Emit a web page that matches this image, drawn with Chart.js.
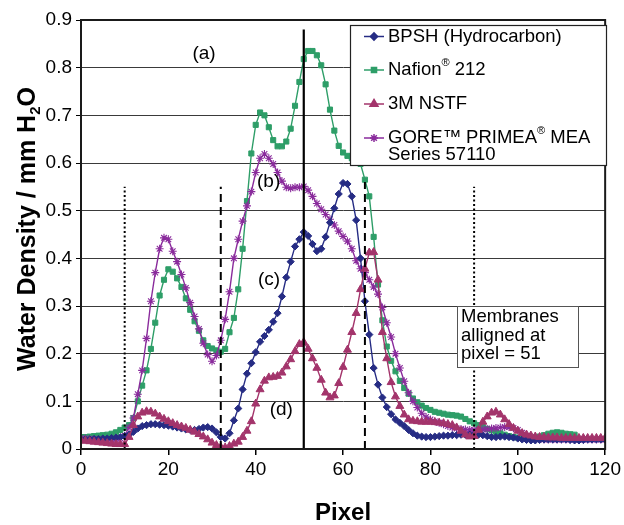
<!DOCTYPE html>
<html><head><meta charset="utf-8">
<script src="https://cdn.jsdelivr.net/npm/chart.js@4/dist/chart.umd.min.js"></script>
<style>html,body{margin:0;padding:0;background:#fff}#wrap{width:624px;height:525px}</style>
</head><body><div id="wrap"><canvas id="c" width="624" height="525"></canvas></div>
<script>
// ---------------- DATA ----------------
const pixels = [0,1,2,3,4,5,6,7,8,9,10,11,12,13,14,15,16,17,18,19,20,21,22,23,24,25,26,27,28,29,30,31,32,33,34,35,36,37,38,39,40,41,42,43,44,45,46,47,48,49,50,51,52,53,54,55,56,57,58,59,60,61,62,63,64,65,66,67,68,69,70,71,72,73,74,75,76,77,78,79,80,81,82,83,84,85,86,87,88,89,90,91,92,93,94,95,96,97,98,99,100,101,102,103,104,105,106,107,108,109,110,111,112,113,114,115,116,117,118,119,120];

const bpsh = [0.02,0.02,0.02,0.021,0.021,0.022,0.022,0.023,0.024,0.025,
0.027,0.03,0.036,0.043,0.048,0.05,0.052,0.052,0.051,0.05,
0.049,0.047,0.045,0.043,0.041,0.04,0.04,0.042,0.045,0.046,
0.043,0.035,0.025,0.022,0.033,0.06,0.085,0.125,0.158,0.18,
0.203,0.225,0.237,0.25,0.267,0.285,0.32,0.36,0.393,0.425,
0.44,0.455,0.447,0.43,0.415,0.42,0.445,0.475,0.505,0.535,
0.558,0.556,0.53,0.48,0.4,0.31,0.24,0.17,0.135,0.108,
0.088,0.073,0.062,0.055,0.048,0.04,0.033,0.028,0.026,0.025,
0.025,0.026,0.027,0.028,0.028,0.029,0.029,0.03,0.03,0.03,
0.03,0.03,0.029,0.027,0.025,0.025,0.026,0.026,0.025,0.024,
0.022,0.02,0.019,0.018,0.018,0.019,0.02,0.02,0.02,0.02,
0.02,0.02,0.019,0.018,0.018,0.019,0.02,0.02,0.02,0.02,
0.02];

const nafion = [0.025,0.025,0.026,0.027,0.028,0.029,0.03,0.032,0.035,0.04,
0.045,0.05,0.065,0.1,0.133,0.165,0.21,0.265,0.322,0.355,
0.377,0.372,0.358,0.34,0.316,0.292,0.268,0.248,0.228,0.216,
0.211,0.207,0.204,0.21,0.245,0.275,0.335,0.42,0.52,0.62,
0.68,0.706,0.7,0.675,0.648,0.635,0.635,0.645,0.672,0.72,
0.77,0.818,0.835,0.835,0.826,0.805,0.765,0.712,0.668,0.636,
0.622,0.615,0.61,0.605,0.598,0.565,0.53,0.445,0.345,0.27,
0.215,0.185,0.163,0.143,0.128,0.116,0.106,0.098,0.091,0.086,
0.082,0.078,0.076,0.074,0.072,0.071,0.07,0.068,0.063,0.058,
0.054,0.05,0.046,0.042,0.039,0.036,0.033,0.03,0.027,0.025,
0.024,0.023,0.023,0.023,0.024,0.026,0.029,0.032,0.034,0.035,
0.034,0.032,0.031,0.03,null,null,null,null,null,null,
null];

const nstf3m = [0.018,0.017,0.016,0.015,0.014,0.013,0.012,0.011,0.01,0.01,
0.01,0.025,0.05,0.068,0.076,0.079,0.078,0.074,0.068,0.063,
0.058,0.054,0.05,0.047,0.044,0.04,0.036,0.031,0.026,0.02,
0.013,0.008,0.004,0.003,0.006,0.011,0.015,0.025,0.038,0.058,
0.095,0.125,0.143,0.15,0.151,0.153,0.16,0.173,0.188,0.205,
0.22,0.224,0.21,0.19,0.17,0.145,0.118,0.108,0.112,0.138,
0.172,0.208,0.245,0.285,0.335,0.378,0.412,0.413,0.355,0.245,
0.19,0.14,0.11,0.09,0.072,0.062,0.059,0.058,0.057,0.057,
0.057,0.056,0.055,0.054,0.052,0.05,0.045,0.038,0.03,0.026,
0.027,0.04,0.057,0.068,0.076,0.078,0.072,0.062,0.052,0.044,
0.038,0.033,0.03,0.028,0.026,0.025,0.025,0.024,0.024,0.024,
0.023,0.023,0.023,0.023,0.023,0.023,0.023,0.023,0.023,0.023,
0.023];

const gore = [0.022,0.022,0.021,0.021,0.02,0.02,0.019,0.019,0.02,0.022,
0.028,0.045,0.065,0.115,0.165,0.232,0.31,0.37,0.42,0.443,
0.44,0.415,0.393,0.366,0.338,0.307,0.278,0.252,0.222,0.198,
0.184,0.196,0.228,0.272,0.33,0.4,0.44,0.478,0.51,0.54,
0.58,0.61,0.619,0.61,0.598,0.58,0.562,0.549,0.547,0.549,
0.549,0.551,0.543,0.53,0.515,0.503,0.492,0.482,0.47,0.457,
0.446,0.436,0.42,0.395,0.378,0.37,0.355,0.34,0.325,0.297,
0.265,0.235,0.2,0.17,0.142,0.118,0.1,0.087,0.075,0.067,
0.062,0.058,0.055,0.052,0.048,0.045,0.043,0.042,0.041,0.04,
0.04,0.04,0.041,0.042,0.043,0.044,0.045,0.046,0.046,0.044,
0.04,0.034,0.028,0.024,0.022,0.021,0.02,0.02,0.02,0.02,
0.02,0.02,0.02,0.02,0.02,0.02,0.02,0.02,0.02,0.02,
0.02];

const seriesNames = ["BPSH (Hydrocarbon)", "Nafion® 212", "3M NSTF", "GORE™ PRIMEA® MEA Series 57110"];
const yTicks = [0, 0.1, 0.2, 0.3, 0.4, 0.5, 0.6, 0.7, 0.8, 0.9];
const yTickLabels = ["0", "0.1", "0.2", "0.3", "0.4", "0.5", "0.6", "0.7", "0.8", "0.9"];
const xTicks = [0, 20, 40, 60, 80, 100, 120];
// reference lines (pixel position, top value)
const guideX = [10, 32, 51, 65, 90];
const guideTop = [0.55, 0.55, 0.88, 0.56, 0.55];
const annotLabels = ["(a)", "(b)", "(c)", "(d)"];
const noteLines = ["Membranes", "alligned at", "pixel = 51"];

// ---------------- STYLE ----------------
const FONT = "'Liberation Sans', Arial, sans-serif";
const colors = ["#262C84", "#2E9E68", "#A3346B", "#8A2B9C"];
const markers = [
  {pointStyle: 'rectRot', radius: 3.6},
  {pointStyle: 'rect', radius: 3.6},
  {pointStyle: 'triangle', radius: 4.6},
  {pointStyle: 'star', radius: 4.0}
];
const guideDash = [[2, 2.5], [8, 5], [], [8, 5], [2, 2.5]];

const toXY = arr => pixels.map((x, i) => ({x: x, y: arr[i]}));
const seriesData = [bpsh, nafion, nstf3m, gore];

const datasets = [];
guideX.forEach((gx, i) => {
  datasets.push({
    label: 'guide' + i,
    data: [{x: gx, y: 0}, {x: gx, y: guideTop[i]}],
    borderColor: '#000', borderWidth: i === 2 ? 2.2 : 2,
    borderDash: guideDash[i], pointRadius: 0, fill: false, tension: 0
  });
});
const seriesOrder = [2, 0, 3, 1];
seriesOrder.forEach(k => {
  datasets.push({
    label: seriesNames[k],
    data: toXY(seriesData[k]),
    borderColor: colors[k], backgroundColor: colors[k],
    pointBorderColor: colors[k], pointBackgroundColor: colors[k],
    borderWidth: 1.4, pointStyle: markers[k].pointStyle, pointRadius: markers[k].radius,
    pointBorderWidth: k === 3 ? 1.1 : 1, tension: 0, fill: false, spanGaps: false
  });
});

function drawTextSup(ctx, parts, x, y, size) {
  let cx = x;
  parts.forEach(p => {
    if (p[1]) {
      ctx.font = (size * 0.6) + "px " + FONT;
      ctx.fillText(p[0], cx, y - size * 0.38);
    } else {
      ctx.font = size + "px " + FONT;
      ctx.fillText(p[0], cx, y);
    }
    cx += ctx.measureText(p[0]).width;
  });
}

const decor = {
  id: 'decor',
  afterDatasetsDraw(chart) {
    const ctx = chart.ctx;
    const a = chart.chartArea;
    const xs = chart.scales.x, ys = chart.scales.y;
    ctx.save();
    // frame
    ctx.strokeStyle = '#1a1a1a'; ctx.lineWidth = 2;
    ctx.strokeRect(a.left, a.top, a.right - a.left, a.bottom - a.top);

    // annotations
    ctx.fillStyle = '#000';
    ctx.font = "19px " + FONT; ctx.textBaseline = 'middle'; ctx.textAlign = 'left';
    const annPos = [[25.5, 0.83], [40.3, 0.56], [40.5, 0.355], [43.2, 0.083]];
    annotLabels.forEach((t, i) => {
      ctx.fillText(t, xs.getPixelForValue(annPos[i][0]), ys.getPixelForValue(annPos[i][1]));
    });

    // note box
    const bx = 457, by = 306, bw = 121, bh = 61;
    ctx.fillStyle = '#fff'; ctx.fillRect(bx, by, bw, bh);
    ctx.strokeStyle = '#555'; ctx.lineWidth = 1; ctx.strokeRect(bx + 0.5, by + 0.5, bw, bh);
    ctx.fillStyle = '#000'; ctx.font = "18.5px " + FONT;
    noteLines.forEach((t, i) => ctx.fillText(t, bx + 4, by + 11 + i * 18.5));

    // legend
    const lx = 350, ly = 25, lw = 256, lh = 140;
    ctx.fillStyle = '#fff'; ctx.fillRect(lx, ly, lw, lh);
    ctx.strokeStyle = '#222'; ctx.lineWidth = 1.2; ctx.strokeRect(lx + 0.5, ly + 0.5, lw, lh);
    const rowY = [36.5, 70, 104, 138];
    const textParts = [
      [["BPSH (Hydrocarbon)", false]],
      [["Nafion", false], ["®", true], [" 212", false]],
      [["3M NSTF", false]],
      [["GORE™ PRIMEA", false], ["®", true], [" MEA", false]]
    ];
    for (let k = 0; k < 4; k++) {
      const y = rowY[k];
      ctx.strokeStyle = colors[k]; ctx.lineWidth = 1.5;
      ctx.beginPath(); ctx.moveTo(364, y); ctx.lineTo(384, y); ctx.stroke();
      ctx.fillStyle = colors[k];
      Chart.helpers.drawPoint(ctx, {pointStyle: markers[k].pointStyle, radius: markers[k].radius, rotation: 0, borderWidth: 1}, 374, y);
      ctx.fillStyle = '#000';
      drawTextSup(ctx, textParts[k], 388, y, 18.5);
    }
    ctx.font = "18.5px " + FONT;
    ctx.fillText("Series 57110", 388, 155);

    // axis titles
    ctx.fillStyle = '#000';
    ctx.font = "bold 24px " + FONT; ctx.textAlign = 'center';
    ctx.fillText("Pixel", (a.left + a.right) / 2, 513);

    ctx.translate(28, 229);
    ctx.rotate(-Math.PI / 2);
    const t1 = "Water Density / mm H", t2 = "2", t3 = "O";
    ctx.font = "bold 25px " + FONT;
    const w1 = ctx.measureText(t1).width, w3 = ctx.measureText(t3).width;
    ctx.font = "bold 15px " + FONT;
    const w2 = ctx.measureText(t2).width;
    const total = w1 + w2 + w3;
    let cx = -total / 2;
    ctx.textAlign = 'left';
    ctx.font = "bold 25px " + FONT; ctx.fillText(t1, cx, 0); cx += w1;
    ctx.font = "bold 15px " + FONT; ctx.fillText(t2, cx, 8); cx += w2;
    ctx.font = "bold 25px " + FONT; ctx.fillText(t3, cx, 0);
    ctx.restore();
  }
};

new Chart(document.getElementById('c'), {
  type: 'line',
  data: {datasets: datasets},
  options: {
    responsive: false, animation: false, devicePixelRatio: 1,
    layout: {padding: {left: 0, top: 20, right: 12, bottom: 0}},
    plugins: {legend: {display: false}, tooltip: {enabled: false}, title: {display: false}},
    scales: {
      x: {
        type: 'linear', min: 0, max: 120,
        afterFit: s => { s.height = 76; },
        afterBuildTicks: s => { s.ticks = xTicks.map(v => ({value: v})); },
        ticks: {color: '#000', font: {family: FONT, size: 19}, padding: 3, maxRotation: 0},
        grid: {drawOnChartArea: false, drawTicks: true, tickLength: 6, color: '#000', lineWidth: 1.5},
        border: {display: true, color: '#000', width: 2}
      },
      y: {
        type: 'linear', min: 0, max: 0.9,
        afterFit: s => { s.width = 81; },
        afterBuildTicks: s => { s.ticks = yTicks.map(v => ({value: v})); },
        ticks: {color: '#000', font: {family: FONT, size: 19}, padding: 4,
          callback: (v, i) => yTickLabels[i]},
        grid: {color: '#3a3a3a', lineWidth: 1, tickLength: 5, tickColor: '#000'},
        border: {display: true, color: '#000', width: 2}
      }
    }
  },
  plugins: [decor]
});
</script></body></html>
